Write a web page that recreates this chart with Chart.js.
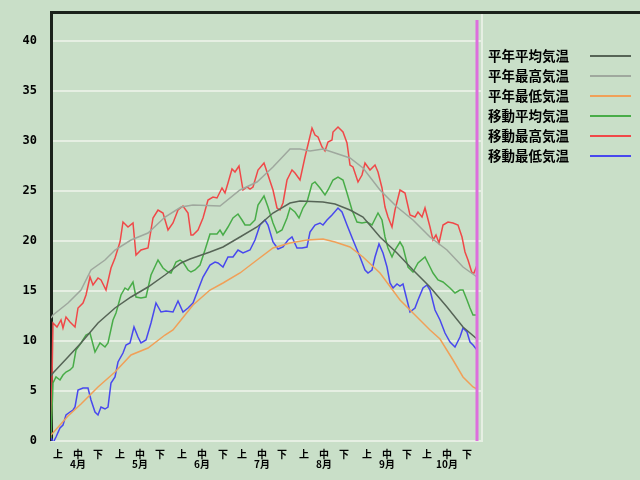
<!DOCTYPE html>
<html><head><meta charset="utf-8">
<script src="https://cdn.jsdelivr.net/npm/chart.js@4.4.1/dist/chart.umd.min.js"></script>
<style>html,body{margin:0;padding:0;background:#c9dfc8;overflow:hidden;}</style>
</head><body>
<canvas id="c" width="640" height="480"></canvas>
<script>
// ---- data (x = days since 1 April, y = °C) ----
const seriesLabels = ['平年平均気温','平年最高気温','平年最低気温','移動平均気温','移動最高気温','移動最低気温'];

const avgNormDays = [0,1,8.5,15,23.5,32,40,48.5,57,65,69.5,79.5,86,94.5,103,111,119.5,124.5,136,142,149.5,156,164.5,173,181,189.5,198,206,213];
const avgNormVals = [6.5,6.8,8.4,9.8,11.8,13.3,14.4,15.4,16.6,17.8,18.2,18.9,19.4,20.4,21.4,22.8,23.8,24.0,23.9,23.7,23.1,22.4,20.4,18.8,17.1,15.4,13.4,11.4,10.2];

const maxNormDays = [0,1,8.5,15,20,27,32,40,48.5,57,65,71,84.5,94.5,103,111,119.5,124.5,129.5,136,142,149.5,156,164.5,173,181,189.5,198,206,213];
const maxNormVals = [12.3,12.6,13.8,15.1,17.1,18.1,19.1,20.1,20.8,22.4,23.4,23.6,23.5,25.1,25.9,27.4,29.2,29.2,29.0,29.2,28.8,28.3,27.3,25.1,23.4,22.1,20.4,19.1,17.4,16.4];

const minNormDays = [0,8.5,15,23.5,32,40,48.5,57,61,65,71,79.5,86,94.5,103,111,119.5,128,136,142,149.5,156,164.5,174.5,181,189.5,194.5,201,206,211,213];
const minNormVals = [0.6,2.5,3.7,5.4,6.9,8.6,9.3,10.6,11.1,12.1,13.6,15.1,15.8,16.8,18.1,19.3,19.8,20.1,20.2,19.9,19.4,18.4,16.8,14.1,12.8,11.1,10.2,8.1,6.4,5.4,5.2];

const avgMoveDays = [0,1,2.5,4.5,6,7.5,9.5,11,12.5,15,17.5,19.5,22,24.5,27,28.5,31,32.5,35,37,38.5,41,42.5,45,47.5,50,53.5,56,58.5,60,62.5,64.5,66,68.5,70,72,74.5,77,79.5,83,84.5,86,88.5,91,93.5,95.5,97,99.5,102,103.5,106.5,108.5,111,113,115.5,118,119.5,122,124,126,128,130.5,132,134.5,137,138.5,141,143.5,146,148,150.5,153,155.5,158,160.5,163.5,165.5,167,168.5,170.5,172,174.5,176,178.5,181,183.5,187,189.5,191,193.5,196,199.5,202,204.5,206,208,209.5,211,213];
const avgMoveVals = [0.3,5.8,6.4,6.1,6.6,6.9,7.1,7.4,9.1,9.8,10.6,10.8,8.9,9.8,9.4,9.8,12.1,12.8,14.6,15.3,15.1,15.9,14.4,14.3,14.4,16.6,18.1,17.3,16.9,16.8,17.9,18.1,17.9,17.1,16.9,17.1,17.6,19.1,20.7,20.7,21.1,20.6,21.4,22.3,22.7,22.1,21.6,21.6,22.1,23.6,24.5,23.4,21.8,20.8,21.1,22.3,23.3,22.9,22.3,23.3,23.9,25.7,25.9,25.3,24.6,25.1,26.1,26.4,26.1,24.8,23.1,21.9,21.8,21.9,21.6,22.8,22.1,20.4,19.3,18.4,19.1,19.9,19.4,17.4,16.9,17.8,18.4,17.4,16.8,16.1,15.9,15.3,14.8,15.1,15.1,14.1,13.3,12.6,12.6];

const maxMoveDays = [0,1,3,5,6,7.5,9.5,11,12,13.5,16,17.5,19.5,21,23.5,25,27.5,30,32,34.5,36,38.5,41,42.5,45,48.5,51,53.5,56,58.5,61,63.5,66,68.5,70,71,73.5,76,78.5,81,83,85.5,87,88.5,90.5,92,94,96,98,99.5,101,103.5,106.5,108.5,111,113,114.5,116,118,120.5,122,124.5,127,130.5,132,133.5,135.5,137,138.5,140.5,141,143.5,146,148,149.5,151,153.5,155.5,157,159.5,162,163.5,165.5,167,168.5,170.5,172,174.5,177,179.5,182,183.5,185.5,187,189.5,191,192.5,194,196,198.5,201,203.5,205.5,207,208.5,210.5,211.5,213];
const maxMoveVals = [0.3,11.8,11.4,12.1,11.3,12.4,11.9,11.6,11.4,13.3,13.8,14.6,16.4,15.6,16.3,16.1,15.1,17.3,18.3,19.9,21.9,21.4,21.8,18.6,19.1,19.3,22.3,23.1,22.8,21.1,21.8,23.1,23.5,22.8,20.6,20.6,21.1,22.3,24.1,24.4,24.3,25.3,24.8,25.8,27.2,26.9,27.5,25.1,25.4,25.2,25.4,27.1,27.8,26.6,25.1,23.3,23.1,23.8,26.1,27.1,26.8,26.1,28.4,31.3,30.6,30.4,29.4,29.0,29.9,30.1,30.9,31.4,30.9,29.8,27.6,27.4,25.9,26.6,27.8,27.1,27.6,26.9,25.3,23.4,22.4,21.4,23.1,25.1,24.8,22.6,22.4,22.9,22.4,23.3,21.4,20.1,20.6,19.8,21.6,21.9,21.8,21.6,20.4,18.9,18.1,16.8,16.8,17.6];

const minMoveDays = [0,1,2.5,4.5,6,7.5,9.5,11,12,13.5,16,18.5,20,22,23.5,25,27,28.5,30,32,33.5,36,37.5,39.5,41.5,43.5,45,47.5,50,52.5,55,57.5,61,63.5,66,68.5,71,73.5,76,79.5,82,83.5,86,88.5,91,93.5,96,99.5,102,104.5,107,108.5,111,113.5,116,118.5,120.5,123,125.5,128,129.5,132,134.5,136,138,140.5,143.5,145.5,148,151,154.5,157,158.5,160.5,162,164,166,168,169.5,171,173,174.5,176,178,179.5,182,183.5,186,188,189.5,192,194.5,197,199.5,202,204.5,206,208,209.5,211,213];
const minMoveVals = [0.4,-0.2,0.4,1.3,1.6,2.6,2.9,3.1,3.4,5.1,5.3,5.3,4.1,2.9,2.6,3.4,3.2,3.4,5.8,6.4,7.9,8.8,9.6,9.8,11.4,10.4,9.8,10.1,11.8,13.8,12.9,13.0,12.9,14.0,12.9,13.3,13.8,15.1,16.4,17.6,17.9,17.8,17.4,18.4,18.4,19.1,18.8,19.1,20.1,21.6,22.1,21.6,19.9,19.2,19.4,20.1,20.4,19.3,19.3,19.4,20.9,21.6,21.8,21.6,22.1,22.6,23.3,22.9,21.6,20.1,18.4,17.1,16.8,17.1,18.4,19.7,18.8,17.4,15.8,15.3,15.7,15.5,15.7,14.1,12.9,13.3,14.1,15.3,15.6,15.1,13.1,12.1,10.8,9.9,9.4,10.4,11.3,10.9,9.9,9.6,9.1];

const tickDays = [3.5,13.5,23.5, 34.5,44.5,54.5, 65.5,75.5,86, 95.5,105.5,115.5, 126.5,136.5,146.5, 158,168,178, 188,198,208];
const periodLabels = ['上','中','下'];
const monthLabels = ['4月','5月','6月','7月','8月','9月','10月'];
const markerDay = 213;
const markerTop = 42.1;

// ---- styles ----
const BG = '#c9dfc8';
const GRID = '#e6efe3';
const colors = ['#566456','#9fa89e','#f0a058','#48ac48','#f04848','#4848ee'];

const pairs = (d, v) => d.map((x, i) => ({x, y: v[i]}));
const seriesData = [
  pairs(avgNormDays, avgNormVals),
  pairs(maxNormDays, maxNormVals),
  pairs(minNormDays, minNormVals),
  pairs(avgMoveDays, avgMoveVals),
  pairs(maxMoveDays, maxMoveVals),
  pairs(minMoveDays, minMoveVals)
];

const zeroPad = s => { s.paddingTop = 0; s.paddingBottom = 0; s.paddingLeft = 0; s.paddingRight = 0; };

const framePlugin = {
  id: 'frame',
  beforeDraw(chart) {
    const ctx = chart.ctx;
    ctx.save(); ctx.fillStyle = BG; ctx.fillRect(0, 0, chart.width, chart.height); ctx.restore();
  },
  beforeDatasetsDraw(chart) {
    const {ctx, chartArea: a} = chart;
    ctx.save();
    ctx.strokeStyle = GRID; ctx.lineWidth = 2;
    ctx.beginPath(); ctx.moveTo(a.right, a.top); ctx.lineTo(a.right, a.bottom + 1); ctx.stroke();
    ctx.strokeStyle = '#1b221b'; ctx.lineWidth = 3;
    ctx.beginPath();
    ctx.moveTo(a.left + 0.5, a.bottom);
    ctx.lineTo(a.left + 0.5, a.top + 1.5);
    ctx.lineTo(chart.width, a.top + 1.5);
    ctx.stroke();
    ctx.restore();
  },
  afterDatasetsDraw(chart) {
    const {ctx} = chart;
    const xs = chart.scales.x, ys = chart.scales.y;
    const px = xs.getPixelForValue(markerDay);
    ctx.save();
    ctx.strokeStyle = '#dd6fdd'; ctx.lineWidth = 3;
    ctx.beginPath(); ctx.moveTo(px, ys.getPixelForValue(markerTop)); ctx.lineTo(px, ys.getPixelForValue(0)); ctx.stroke();
    ctx.restore();
  },
  afterDraw(chart) {
    const {ctx} = chart;
    ctx.save();
    ctx.font = 'bold 13.5px "Noto Sans CJK JP"';
    ctx.textBaseline = 'middle';
    ctx.textAlign = 'left';
    chart.data.datasets.forEach((ds, i) => {
      const y = 56 + i * 20;
      ctx.fillStyle = '#000';
      ctx.fillText(ds.label, 488, y);
      ctx.strokeStyle = ds.borderColor; ctx.lineWidth = 2;
      ctx.beginPath(); ctx.moveTo(590, y); ctx.lineTo(631, y); ctx.stroke();
    });
    ctx.restore();
  }
};

new Chart(document.getElementById('c'), {
  type: 'line',
  data: {
    datasets: seriesData.map((d, i) => ({
      label: seriesLabels[i], data: d, borderColor: colors[i], backgroundColor: colors[i],
      borderWidth: 1.5, pointRadius: 0, tension: 0, fill: false
    }))
  },
  options: {
    responsive: false, animation: false,
    layout: {padding: {top: 11, right: 158, left: 0, bottom: 0}},
    plugins: {legend: {display: false}, tooltip: {enabled: false}},
    scales: {
      x: {
        type: 'linear', min: 0, max: 215.5,
        grid: {display: false, drawTicks: false}, border: {display: false},
        afterBuildTicks: s => { s.ticks = tickDays.map(v => ({value: v})); },
        afterFit: s => { s.height = 39; zeroPad(s); },
        ticks: {
          autoSkip: false, maxRotation: 0, minRotation: 0, padding: 8, color: '#000',
          font: {family: '"Noto Sans CJK JP"', size: 10, weight: 'bold', lineHeight: 1.0},
          callback: (v, i) => (i % 3 === 1) ? [periodLabels[1], monthLabels[Math.floor(i / 3)]] : periodLabels[i % 3]
        }
      },
      y: {
        min: 0, max: 43,
        grid: {color: GRID, lineWidth: 2, drawTicks: false}, border: {display: false},
        afterFit: s => { s.width = 51; zeroPad(s); },
        ticks: {stepSize: 5, includeBounds: false, padding: 14, color: '#000',
          font: {family: '"DejaVu Sans Mono"', size: 12, weight: 'bold'}}
      }
    }
  },
  plugins: [framePlugin]
});
</script>
</body></html>
